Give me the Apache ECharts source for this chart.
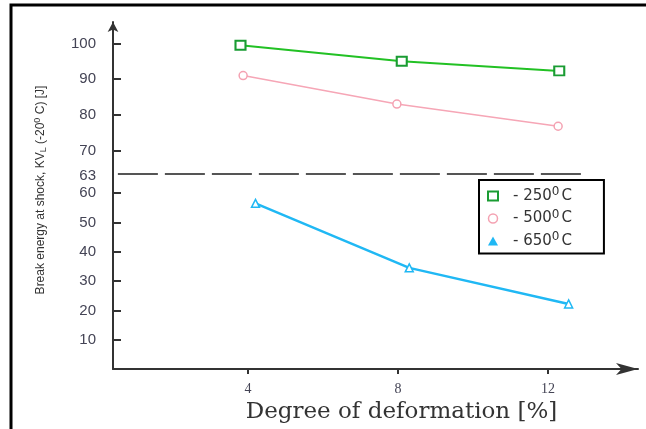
<!DOCTYPE html>
<html>
<head>
<meta charset="utf-8">
<script src="https://cdn.jsdelivr.net/npm/echarts@6/dist/echarts.min.js"></script>
<style>
  html, body { margin: 0; padding: 0; background: #fff; }
  #eChart { width: 646px; height: 429px; }
</style>
</head>
<body>
<div id="eChart"></div>
<script>
// series names (temperature, deg C)
const names = ['250', '500', '650'];
// degree of deformation [%] where the points were plotted
const x250 = [3.8, 8.1, 12.3];
const x500 = [3.87, 7.97, 12.27];
const x650 = [4.2, 8.3, 12.55];
// break energy [J]
const y250 = [99.5, 95, 92.3];
const y500 = [91, 83, 76.8];
const y650 = [56.5, 34.5, 22.2];
// tick labels
const xTicks = [4, 8, 12];
const yTicksTop = [63, 70, 80, 90, 100];
const yTicksBottom = [10, 20, 30, 40, 50, 60];

const pair = (xs, ys) => xs.map((x, i) => [x, ys[i]]);

const labelFont = "'Liberation Sans', sans-serif";

let myChart = echarts.init(document.getElementById('eChart'));
let option = {
  animation: false,
  graphic: [
    {
      type: 'rect',
      shape: { x: 11, y: 5, width: 800, height: 600 },
      style: { fill: 'none', stroke: '#000', lineWidth: 3 }
    },
    {
      type: 'text',
      x: 41, y: 190,
      rotation: Math.PI / 2,
      style: {
        text: 'Break energy at shock, KV{sub|L} (-20{sup|0} C) [J]',
        fontFamily: labelFont,
        fontSize: 12,
        fill: '#333',
        align: 'center',
        verticalAlign: 'middle',
        rich: {
          sub: { fontSize: 9, fontFamily: labelFont, verticalAlign: 'bottom', padding: [6, 0, 0, 0] },
          sup: { fontSize: 9, fontFamily: labelFont, verticalAlign: 'top', padding: [0, 0, 5, 0] }
        }
      }
    }
  ],
  legend: {
    orient: 'vertical',
    left: 479, top: 180,
    padding: [6, 32, 5, 8],
    itemGap: 5,
    itemWidth: 10, itemHeight: 9,
    borderColor: '#000', borderWidth: 2,
    backgroundColor: '#fff',
    formatter: name => '- ' + name + '{sup|0}C',
    textStyle: {
      fontFamily: 'DejaVu Sans, sans-serif',
      fontSize: 15, color: '#333',
      padding: [0, 0, 0, 10],
      rich: { sup: { fontFamily: 'DejaVu Sans, sans-serif', fontSize: 12, color: '#333', padding: [0, 2, 8, 0] } }
    },
    data: [
      { name: names[0], icon: 'rect', itemStyle: { color: '#fff', borderColor: '#1a9c33', borderWidth: 2 } },
      { name: names[1], icon: 'circle', itemStyle: { color: '#fff', borderColor: '#f4a2b2', borderWidth: 1.5 } },
      { name: names[2], icon: 'triangle', itemStyle: { color: '#20b8f4', borderWidth: 0 } }
    ]
  },
  grid: [
    { left: 113, right: 8, top: 22, height: 153.5 },
    { left: 113, right: 8, top: 175.5, bottom: 60 }
  ],
  xAxis: [
    { gridIndex: 0, type: 'value', min: 0.4, max: 14.4, show: false },
    {
      gridIndex: 1, type: 'value', min: 0.4, max: 14.4,
      splitLine: { show: false },
      axisLine: { lineStyle: { color: '#333', width: 2 }, symbol: ['none', 'arrow'], symbolSize: [9, 22] },
      axisTick: { customValues: xTicks, length: 5, lineStyle: { color: '#333', width: 2 } },
      axisLabel: { customValues: xTicks, color: '#445', fontFamily: 'Liberation Serif, serif', fontSize: 14, margin: 13 },
      name: 'Degree of deformation [%]',
      nameLocation: 'middle',
      nameGap: 32,
      nameTextStyle: { fontFamily: 'DejaVu Serif, serif', fontSize: 23, color: '#333', padding: [0, 0, 0, 52] }
    }
  ],
  yAxis: [
    {
      gridIndex: 0, type: 'value', min: 63, max: 106,
      splitLine: { show: false },
      axisLine: { lineStyle: { color: '#333', width: 2 }, symbol: ['none', 'arrow'], symbolSize: [8, 10] },
      axisTick: { inside: true, customValues: [70, 80, 90, 100], length: 8, lineStyle: { color: '#333', width: 2 } },
      axisLabel: { customValues: yTicksTop, color: '#445', fontFamily: labelFont, fontSize: 15, margin: 17 }
    },
    {
      gridIndex: 1, type: 'value', min: 0, max: 66,
      splitLine: { show: false },
      axisLine: { lineStyle: { color: '#333', width: 2 } },
      axisTick: { inside: true, customValues: yTicksBottom, length: 8, lineStyle: { color: '#333', width: 2 } },
      axisLabel: { customValues: yTicksBottom, color: '#445', fontFamily: labelFont, fontSize: 15, margin: 17 }
    }
  ],
  series: [
    {
      name: names[0], type: 'line', xAxisIndex: 0, yAxisIndex: 0,
      data: pair(x250, y250),
      symbol: 'rect', symbolSize: [10, 9],
      lineStyle: { color: '#22c124', width: 2 },
      itemStyle: { color: '#fff', borderColor: '#1a9c33', borderWidth: 2 },
      markLine: {
        silent: true, symbol: 'none', label: { show: false },
        lineStyle: { color: '#555', width: 2, type: [40, 7] },
        data: [[{ coord: [0.53, 63.4] }, { coord: [12.96, 63.4] }]]
      }
    },
    {
      name: names[1], type: 'line', xAxisIndex: 0, yAxisIndex: 0,
      data: pair(x500, y500),
      symbol: 'circle', symbolSize: 8,
      lineStyle: { color: '#f6a6b6', width: 1.5 },
      itemStyle: { color: '#fff', borderColor: '#f4a2b2', borderWidth: 1.5 }
    },
    {
      name: names[2], type: 'line', xAxisIndex: 1, yAxisIndex: 1,
      data: pair(x650, y650),
      symbol: 'triangle', symbolSize: 8,
      lineStyle: { color: '#20b8f4', width: 2.5 },
      itemStyle: { color: '#fff', borderColor: '#20b8f4', borderWidth: 1.5 }
    }
  ]
};
myChart.setOption(option);
</script>
</body>
</html>
